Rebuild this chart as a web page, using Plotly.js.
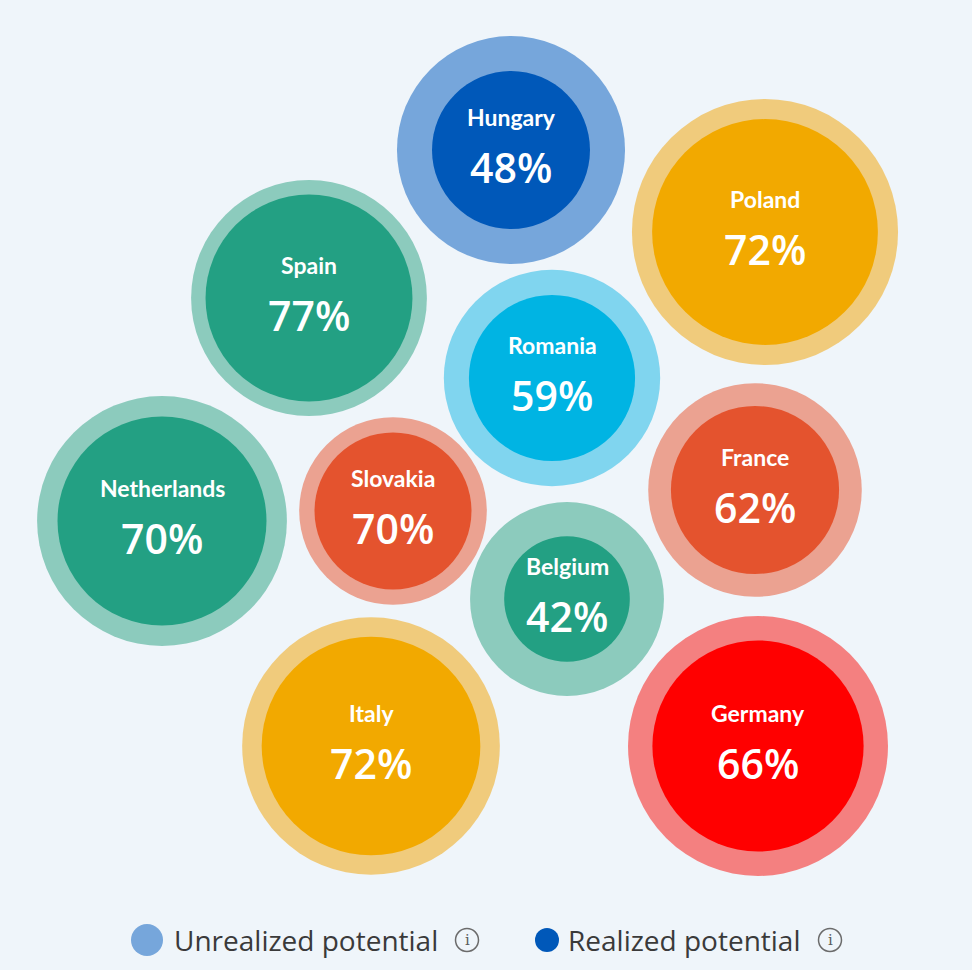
<!DOCTYPE html>
<html><head><meta charset="utf-8">
<script src="https://cdn.plot.ly/plotly-3.0.1.min.js"></script>
<style>html,body{margin:0;padding:0;background:#eff5fa;}#chart{width:972px;height:970px;}</style>
</head><body><div id="chart"></div>
<script>
// ---- data ----
const countries = ['Hungary','Poland','Spain','Romania','Netherlands','Slovakia','France','Belgium','Italy','Germany'];
const realizedPct = [48, 72, 77, 59, 70, 70, 62, 42, 72, 66];
// total potential (relative units, proportional to outer bubble area)
const totalPotential = [130, 177, 139, 117, 156, 88, 114, 94, 166, 169];
const legendLabels = ['Unrealized potential', 'Realized potential'];

// ---- packing positions (layout only) ----
const bubbleX = [511, 765, 309, 552, 162, 393, 755, 567, 371, 758];
const bubbleY = [150, 232, 298, 378, 521, 511, 490, 599, 746, 746];

// ---- styles ----
const outerColors = ['#76a6db','#f0cb7c','#8ccbbd','#80d5ef','#8ccbbd','#eba291','#eba291','#8ccbbd','#f0cb7c','#f48080'];
const innerColors = ['#0058b9','#f2a900','#23a083','#00b4e3','#23a083','#e4532e','#e4532e','#23a083','#f2a900','#ff0000'];

const realizedValue = totalPotential.map((v, i) => v * realizedPct[i] / 100);
const SIZEREF = 0.005;

const traces = [
  {
    type: 'scatter', mode: 'markers', name: legendLabels[0],
    x: bubbleX, y: bubbleY,
    marker: { size: totalPotential, sizemode: 'area', sizeref: SIZEREF, color: outerColors, opacity: 1, line: { width: 0 } },
    hoverinfo: 'skip'
  },
  {
    type: 'scatter', mode: 'markers', name: legendLabels[1],
    x: bubbleX, y: bubbleY,
    marker: { size: realizedValue, sizemode: 'area', sizeref: SIZEREF, color: innerColors, opacity: 1, line: { width: 0 } },
    hoverinfo: 'skip'
  }
];

const annotations = [];
countries.forEach((c, i) => {
  annotations.push({
    x: bubbleX[i], y: bubbleY[i], xref: 'x', yref: 'y', text: '<b>' + c + '</b>', showarrow: false,
    yshift: 33, font: { family: 'Lato, sans-serif', size: 23, color: '#ffffff' }
  });
  annotations.push({
    x: bubbleX[i], y: bubbleY[i], xref: 'x', yref: 'y', text: realizedPct[i] + '%', showarrow: false,
    yshift: -17, font: { family: '"Open Sans", sans-serif', size: 41, color: '#ffffff', weight: 600 }
  });
});

// ---- legend (drawn manually) ----
const legY = 940;
const legItems = [
  { mx: 147, mr: 16, color: outerColors[0], tx: 172, ix: 467 },
  { mx: 547, mr: 12, color: innerColors[0], tx: 566, ix: 830 }
];
const shapes = [];
legItems.forEach((it, k) => {
  shapes.push({ type: 'circle', xref: 'x', yref: 'y', x0: it.mx - it.mr, x1: it.mx + it.mr, y0: legY - it.mr, y1: legY + it.mr,
    fillcolor: it.color, line: { width: 0 } });
  shapes.push({ type: 'circle', xref: 'x', yref: 'y', x0: it.ix - 11.5, x1: it.ix + 11.5, y0: legY - 11.5, y1: legY + 11.5,
    fillcolor: 'rgba(0,0,0,0)', line: { width: 1.5, color: '#6b6b6b' } });
  annotations.push({ x: it.tx, y: legY, xref: 'x', yref: 'y', xanchor: 'left', yanchor: 'middle', showarrow: false,
    text: legendLabels[k], font: { family: '"Open Sans", sans-serif', size: 28, color: '#3a3a3a' } });
  annotations.push({ x: it.ix, y: legY, xref: 'x', yref: 'y', xanchor: 'center', yanchor: 'middle', showarrow: false,
    text: 'i', font: { family: '"DejaVu Serif", serif', size: 15, color: '#5a5a5a' } });
});

const layout = {
  width: 972, height: 970,
  margin: { l: 0, r: 0, t: 0, b: 0 },
  paper_bgcolor: '#eff5fa', plot_bgcolor: '#eff5fa',
  showlegend: false,
  xaxis: { range: [0, 972], visible: false, fixedrange: true },
  yaxis: { range: [970, 0], visible: false, fixedrange: true },
  annotations: annotations,
  shapes: shapes
};

Plotly.newPlot('chart', traces, layout, { displayModeBar: false, staticPlot: true });
</script>
</body></html>
